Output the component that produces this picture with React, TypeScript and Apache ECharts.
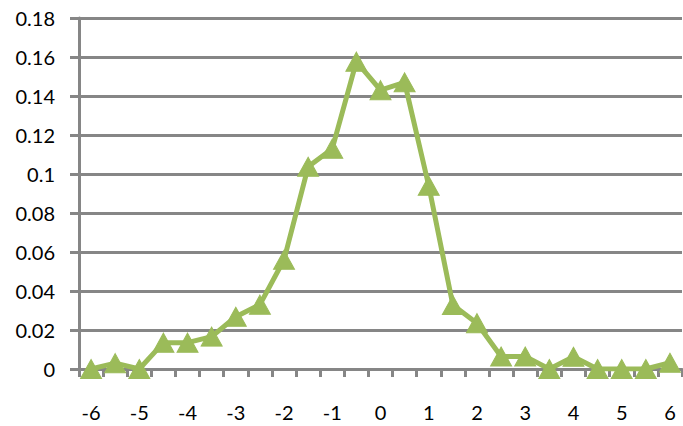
import React, { useEffect, useRef } from "react";
import * as echarts from "echarts";

const categories = [
  "-6", "-5.5", "-5", "-4.5", "-4", "-3.5", "-3", "-2.5", "-2", "-1.5", "-1", "-0.5",
  "0", "0.5", "1", "1.5", "2", "2.5", "3", "3.5", "4", "4.5", "5", "5.5", "6",
];
const values = [
  0, 0.003, 0, 0.0135, 0.0135, 0.0166, 0.0268, 0.033, 0.056, 0.1037, 0.113, 0.1576,
  0.143, 0.147, 0.094, 0.0328, 0.0235, 0.0064, 0.0064, 0, 0.0063, 0, 0, 0, 0.0032,
];
const yMin = 0;
const yMax = 0.18;
const yStep = 0.02;

export default function App() {
  const ref = useRef<HTMLDivElement>(null);
  useEffect(() => {
    if (!ref.current) return;
    const chart = echarts.init(ref.current, null, { renderer: "svg" });
    const gray = "#868686";
    const font = "Lato";
    chart.setOption({
      animation: false,
      backgroundColor: "#ffffff",
      grid: { left: 79, right: 1, top: 18, bottom: 57, containLabel: false },
      xAxis: {
        type: "category",
        data: categories,
        boundaryGap: true,
        axisLine: { show: true, lineStyle: { color: gray, width: 3 } },
        axisTick: {
          show: true,
          interval: 0,
          alignWithLabel: false,
          length: 8,
          lineStyle: { color: gray, width: 3 },
        },
        axisLabel: {
          interval: 1,
          margin: 33,
          color: "#000000",
          fontFamily: font,
          fontSize: 20,
        },
        splitLine: { show: false },
      },
      yAxis: {
        type: "value",
        min: yMin,
        max: yMax,
        interval: yStep,
        axisLine: { show: true, lineStyle: { color: gray, width: 3 } },
        axisTick: { show: true, length: 9, lineStyle: { color: gray, width: 3 } },
        axisLabel: {
          margin: 24,
          color: "#000000",
          fontFamily: font,
          fontSize: 20,
          formatter: (v: number) => String(parseFloat(v.toFixed(2))),
        },
        splitLine: { show: true, lineStyle: { color: gray, width: 3 } },
      },
      series: [
        {
          type: "line",
          data: values,
          symbol: "triangle",
          symbolSize: [21, 19],
          showAllSymbol: true,
          lineStyle: { color: "#9BBB59", width: 5 },
          itemStyle: { color: "#9BBB59", borderColor: "#9BBB59", borderWidth: 1 },
          z: 5,
        },
      ],
    });
    return () => chart.dispose();
  }, []);
  return (
    <div
      ref={ref}
      style={{ position: "fixed", left: 0, top: 0, width: 683, height: 426 }}
    />
  );
}
